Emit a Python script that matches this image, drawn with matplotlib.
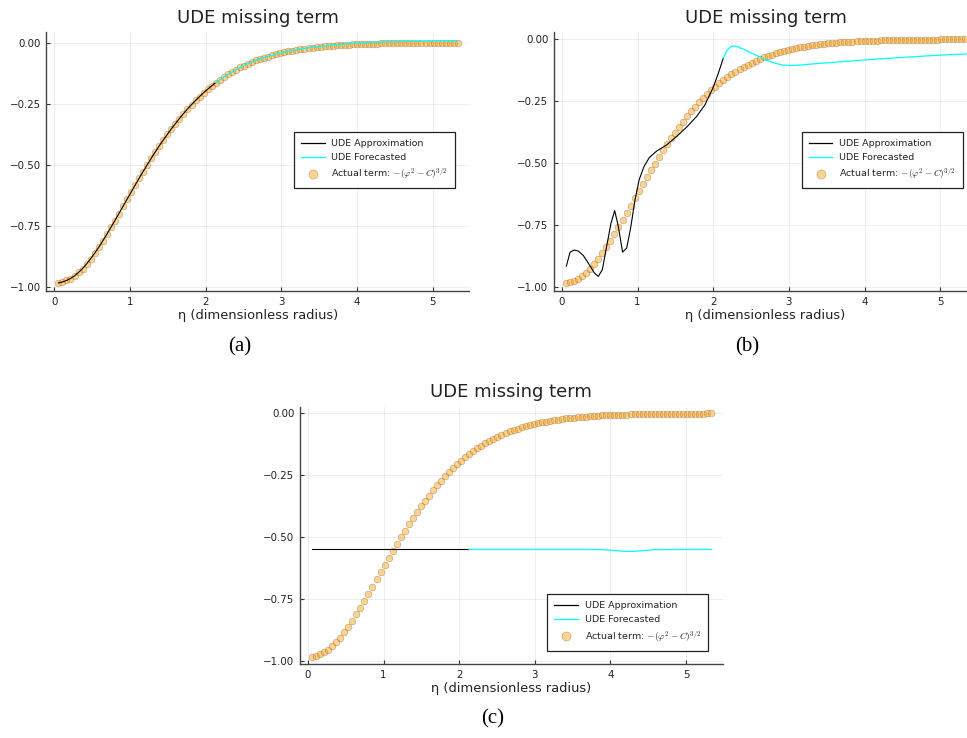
import numpy as np
import matplotlib
matplotlib.use('Agg')
import matplotlib.pyplot as plt
from matplotlib.lines import Line2D

plt.rcParams['font.family'] = ['DejaVu Sans']
plt.rcParams['mathtext.fontset'] = 'cm'

# eta grid of the "actual term" markers (100 evenly spaced points)
eta = np.linspace(0.0533, 5.333, 100)

# actual term -(phi^2 - C)^(3/2)
actual = [
    -0.984, -0.980, -0.974, -0.966, -0.955, -0.941, -0.925, -0.906, -0.885, -0.862,
    -0.838, -0.812, -0.785, -0.757, -0.729, -0.700, -0.671, -0.642, -0.613, -0.584,
    -0.556, -0.528, -0.501, -0.474, -0.448, -0.423, -0.399, -0.376, -0.353, -0.332,
    -0.311, -0.291, -0.272, -0.254, -0.237, -0.221, -0.205, -0.191, -0.177, -0.164,
    -0.152, -0.141, -0.130, -0.120, -0.111, -0.102, -0.094, -0.087, -0.080, -0.073,
    -0.067, -0.062, -0.057, -0.052, -0.0475, -0.0435, -0.0397, -0.0362, -0.0330, -0.0301,
    -0.0274, -0.0249, -0.0226, -0.0205, -0.0186, -0.0169, -0.0153, -0.0139, -0.0126, -0.0114,
    -0.0103, -0.0093, -0.0084, -0.0076, -0.0069, -0.0062, -0.0056, -0.0050, -0.0045, -0.0041,
    -0.0037, -0.0033, -0.0030, -0.0027, -0.0024, -0.0022, -0.0020, -0.0018, -0.0016, -0.0014,
    -0.0013, -0.0012, -0.0010, -0.0009, -0.0008, -0.0007, -0.0006, -0.0005, -0.0004, -0.0003,
]

# (a) UDE approximation follows the markers on the training range
approx_a_x = eta[:40]
approx_a = actual[:40]
fore_a_x = [2.133, 2.3, 2.5, 2.7, 2.9, 3.1, 3.3, 3.5, 3.75, 4.0, 4.25, 4.5, 4.75, 5.0, 5.333]
fore_a = [-0.164, -0.129, -0.094, -0.068, -0.049, -0.035, -0.024, -0.016, -0.008,
          -0.002, 0.002, 0.004, 0.005, 0.006, 0.007]

# (b) wiggly approximation + forecast
approx_b_x = [0.057, 0.106, 0.159, 0.216, 0.282, 0.361, 0.427, 0.48, 0.533, 0.59,
              0.648, 0.696, 0.744, 0.80, 0.855, 0.907, 0.965, 1.02, 1.084, 1.154,
              1.25, 1.383, 1.515, 1.648, 1.78, 1.89, 2.0, 2.066, 2.133]
approx_b = [-0.915, -0.859, -0.850, -0.854, -0.872, -0.909, -0.942, -0.956, -0.929, -0.835,
            -0.741, -0.691, -0.754, -0.858, -0.842, -0.761, -0.647, -0.566, -0.513, -0.477,
            -0.451, -0.426, -0.392, -0.354, -0.311, -0.264, -0.193, -0.137, -0.075]
fore_b_x = [2.133, 2.18, 2.23, 2.27, 2.33, 2.42, 2.52, 2.62, 2.72, 2.82, 2.92, 3.02,
            3.15, 3.33, 3.55, 3.77, 4.02, 4.3, 4.66, 5.0, 5.36]
fore_b = [-0.075, -0.045, -0.030, -0.027, -0.031, -0.043, -0.058, -0.072, -0.086, -0.097,
          -0.104, -0.106, -0.104, -0.099, -0.094, -0.089, -0.083, -0.077, -0.070, -0.064,
          -0.059]

# (c) flat approximation + forecast
approx_c_x = [0.053, 2.133]
approx_c = [-0.550, -0.550]
fore_c_x = [2.133, 3.0, 3.6, 3.9, 4.05, 4.15, 4.25, 4.35, 4.45, 4.6, 5.0, 5.333]
fore_c = [-0.550, -0.550, -0.550, -0.551, -0.554, -0.557, -0.558, -0.557, -0.554,
          -0.551, -0.550, -0.550]

panels = [
    dict(pos=[0.0479, 0.6057, 0.4374, 0.3505], ylim=(-1.017, 0.042),
         ax_x=approx_a_x, ax_y=approx_a, fx=fore_a_x, fy=fore_a,
         cap='(a)', cap_xy=(240, 347), leg=(0.5856, 0.6146)),
    dict(pos=[0.5729, 0.6057, 0.4374, 0.3505], ylim=(-1.015, 0.028),
         ax_x=approx_b_x, ax_y=approx_b, fx=fore_b_x, fy=fore_b,
         cap='(b)', cap_xy=(747, 347), leg=(0.5856, 0.6146)),
    dict(pos=[0.3102, 0.1003, 0.4371, 0.3486], ylim=(-1.013, 0.027),
         ax_x=approx_c_x, ax_y=approx_c, fx=fore_c_x, fy=fore_c,
         cap='(c)', cap_xy=(493, 719), leg=(0.585, 0.271)),
]

W, H = 967, 738
fig = plt.figure(figsize=(W / 100, H / 100), dpi=100)
fig.patch.set_facecolor('white')

mk_face = (1.0, 0.62, 0.05, 0.45)
mk_edge = (0.35, 0.22, 0.05, 0.35)
txt = '#222222'

for p in panels:
    ax = fig.add_axes(p['pos'])
    ax.plot(p['ax_x'], p['ax_y'], color='black', lw=0.8, zorder=3)
    ax.plot(p['fx'], p['fy'], color='cyan', lw=0.9, zorder=3)
    ax.scatter(eta, actual, s=4.8 ** 2, facecolors=[mk_face], edgecolors=[mk_edge],
               linewidths=0.5, zorder=2)

    ax.set_xlim(-0.106, 5.485)
    ax.set_ylim(*p['ylim'])
    ax.set_xticks([0, 1, 2, 3, 4, 5])
    ax.set_yticks([0.0, -0.25, -0.5, -0.75, -1.0])
    ax.set_yticklabels(['0.00', '\u22120.25', '\u22120.50', '\u22120.75', '\u22121.00'])
    ax.tick_params(direction='in', length=3, width=0.8, labelsize=7.4,
                   colors='#333333', labelcolor=txt, pad=4)
    ax.grid(True, color='black', alpha=0.08, lw=0.6)
    for s in ['top', 'right']:
        ax.spines[s].set_visible(False)
    for s in ['left', 'bottom']:
        ax.spines[s].set_color('#444444')
        ax.spines[s].set_linewidth(1.0)

    ax.set_title('UDE missing term', fontsize=13, color=txt, pad=7)
    ax.set_xlabel('\u03b7 (dimensionless radius)', fontsize=9.4, color=txt, labelpad=2)

    handles = [
        Line2D([], [], color='black', lw=0.9),
        Line2D([], [], color='cyan', lw=0.9),
        Line2D([], [], marker='o', ls='none', ms=6.5, mfc=mk_face, mec=mk_edge, mew=0.5),
    ]
    labels = ['UDE Approximation', 'UDE Forecasted',
              r'Actual term: $-(\varphi^2 - C)^{3/2}$']
    leg = ax.legend(handles, labels, loc='upper left', bbox_to_anchor=p['leg'],
                    borderaxespad=0, fontsize=6.8, frameon=True, fancybox=False,
                    edgecolor='#222222', framealpha=1, handlelength=2.5,
                    handletextpad=0.7, labelspacing=0.5, borderpad=0.75)
    leg.get_frame().set_linewidth(0.9)
    for t in leg.get_texts():
        t.set_color(txt)

    fig.text(p['cap_xy'][0] / W, 1 - p['cap_xy'][1] / H, p['cap'],
             ha='center', va='center', fontsize=15, family='Liberation Serif')

fig.savefig('out.png', dpi=100, facecolor='white')
